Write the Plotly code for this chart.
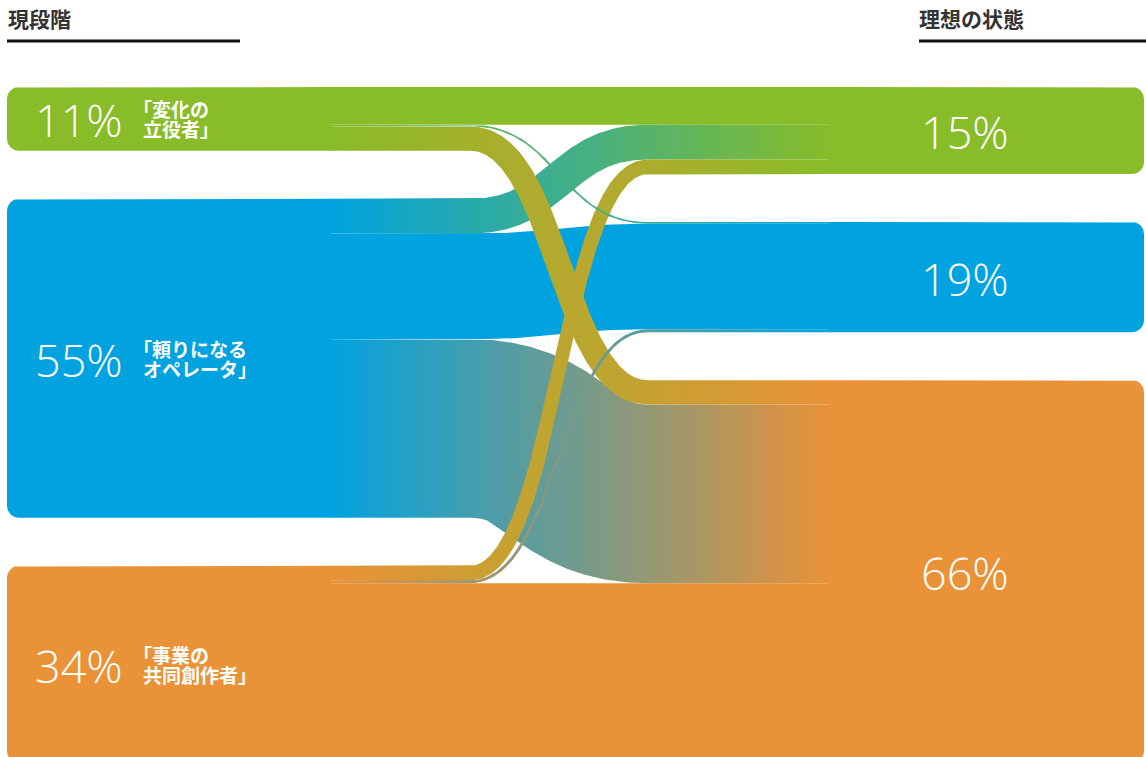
import numpy as np
import plotly.graph_objects as go

# ---------------------------------------------------------------- data
header_now = "現段階"
header_ideal = "理想の状態"
stage_names = [["「変化の", "立役者」"],
               ["「頼りになる", "オペレータ」"],
               ["「事業の", "共同創作者」"]]
stage_colors = ["#88BC28", "#00A3E0", "#E99237"]

now_share = [11, 55, 34]      # 現段階 (%)
ideal_share = [15, 19, 66]    # 理想の状態 (%)

# movement from each current stage to each ideal state (% of respondents),
# ordered as [変化の立役者, 頼りになるオペレータ, 事業の共同創作者]
from_change_agent = [6.5, 0.3, 4.2]
from_operator = [6.0, 18.2, 30.8]
from_co_creator = [2.5, 0.5, 31.0]
flows = [from_change_agent, from_operator, from_co_creator]

# ---------------------------------------------------------------- layout
W, H = 1146, 757
PX = 5.8            # pixels per percentage point
TOP = 87            # top of both columns (px)
GAP = 48 / PX       # gap between stacked nodes, in % units
LEFT_X = (7, 331)
RIGHT_X = (829, 1144)
LINK_X = (330, 830)
BEND_X = (470, 648)
RADIUS = 12

y_top = -TOP / PX
y_bot = (H - TOP) / PX


def stack(shares):
    tops, y = [], 0.0
    for s in shares:
        tops.append(y)
        y += s + GAP
    return tops


left_tops = stack(now_share)
right_tops = stack(ideal_share)


def rounded_node(x0, x1, y0, y1, side):
    """Rectangle in px with the outer corners rounded; returns axis coords."""
    r = RADIUS
    a = np.linspace(0, np.pi / 2, 16)
    if side == "left":
        xs = [x1, x0 + r] + list(x0 + r - r * np.sin(a)) + [x0, x0] + \
             list(x0 + r - r * np.cos(a)) + [x1, x1]
        ys = [y0, y0] + list(y0 + r - r * np.cos(a)) + [y0 + r, y1 - r] + \
             list(y1 - r + r * np.sin(a)) + [y1, y0]
    else:
        xs = [x0, x1 - r] + list(x1 - r + r * np.sin(a)) + [x1, x1] + \
             list(x1 - r + r * np.cos(a)) + [x0, x0]
        ys = [y0, y0] + list(y0 + r - r * np.cos(a)) + [y0 + r, y1 - r] + \
             list(y1 - r + r * np.sin(a)) + [y1, y0]
    return np.array(xs), np.array(ys) / PX


def link_band(yc0, yc1, w):
    """Stroke-like band (constant thickness w px) along a flat-bezier-flat path."""
    xa, xb = BEND_X
    xm = (xa + xb) / 2
    t = np.linspace(0, 1, 160)
    bx = (1 - t) ** 3 * xa + 3 * (1 - t) ** 2 * t * xm + 3 * (1 - t) * t ** 2 * xm + t ** 3 * xb
    by = (1 - t) ** 3 * yc0 + 3 * (1 - t) ** 2 * t * yc0 + 3 * (1 - t) * t ** 2 * yc1 + t ** 3 * yc1
    dbx = 3 * (1 - t) ** 2 * (xm - xa) + 3 * t ** 2 * (xb - xm)
    dby = 6 * (1 - t) * t * (yc1 - yc0)
    cx = np.concatenate([[LINK_X[0]], bx, [LINK_X[1]]])
    cy = np.concatenate([[yc0], by, [yc1]])
    tx = np.concatenate([[1.0], dbx, [1.0]])
    ty = np.concatenate([[0.0], dby, [0.0]])
    n = np.hypot(tx, ty)
    nx, ny = ty / n, -tx / n
    topx, topy = cx + w / 2 * nx, cy + w / 2 * ny
    botx, boty = cx - w / 2 * nx, cy - w / 2 * ny
    xs = np.concatenate([topx, botx[::-1], topx[:1]])
    ys = np.concatenate([topy, boty[::-1], topy[:1]])
    return xs, ys / PX


fig = go.Figure()

# ---- nodes
for i, s in enumerate(now_share):
    y0 = TOP + left_tops[i] * PX
    xs, ys = rounded_node(LEFT_X[0], LEFT_X[1], y0, y0 + s * PX, "left")
    fig.add_trace(go.Scatter(x=xs, y=ys - TOP / PX, fill="toself", mode="lines",
                             line=dict(width=0), fillcolor=stage_colors[i],
                             hoverinfo="skip", showlegend=False))
for j, s in enumerate(ideal_share):
    y0 = TOP + right_tops[j] * PX
    xs, ys = rounded_node(RIGHT_X[0], RIGHT_X[1], y0, y0 + s * PX, "right")
    fig.add_trace(go.Scatter(x=xs, y=ys - TOP / PX, fill="toself", mode="lines",
                             line=dict(width=0), fillcolor=stage_colors[j],
                             hoverinfo="skip", showlegend=False))

# ---- link positions inside each node
src_off = {}
for i in range(3):
    acc = left_tops[i]
    for j in range(3):
        src_off[(i, j)] = acc
        acc += flows[i][j]
tgt_off = {}
for j in range(3):
    acc = right_tops[j]
    for i in range(3):
        tgt_off[(i, j)] = acc
        acc += flows[i][j]

draw_order = [(1, 1), (1, 0), (1, 2), (0, 0), (2, 2), (0, 2), (2, 0), (0, 1), (2, 1)]
for i, j in draw_order:
    v = flows[i][j]
    yc0 = TOP + (src_off[(i, j)] + v / 2) * PX
    yc1 = TOP + (tgt_off[(i, j)] + v / 2) * PX
    xs, ys = link_band(yc0, yc1, v * PX)
    fig.add_trace(go.Scatter(
        x=xs, y=ys - TOP / PX, fill="toself", mode="lines", line=dict(width=0),
        fillgradient=dict(type="horizontal",
                          colorscale=[[0, stage_colors[i]], [1, stage_colors[j]]],
                          start=LINK_X[0], stop=LINK_X[1]),
        hoverinfo="skip", showlegend=False))

# ---- labels
pct_font = dict(family="Open Sans", size=45, color="white", weight=300)
jp_font = dict(family="Noto Sans CJK JP", size=19, color="white", weight=700)
LINE_SEP = 10 / PX   # half the distance between the two name lines
for i, s in enumerate(now_share):
    yc = left_tops[i] + s / 2
    fig.add_annotation(x=33, y=yc, text=f"{s}%", showarrow=False, xanchor="left",
                       yanchor="middle", font=pct_font, yshift=-1)
    first, second = stage_names[i]
    # opening bracket hangs half an em to the left of the second line
    fig.add_annotation(x=131, y=yc - LINE_SEP, text=first, showarrow=False,
                       xanchor="left", yanchor="middle", font=jp_font)
    fig.add_annotation(x=140.5, y=yc + LINE_SEP, text=second, showarrow=False,
                       xanchor="left", yanchor="middle", font=jp_font)
for j, s in enumerate(ideal_share):
    yc = right_tops[j] + s / 2
    fig.add_annotation(x=919, y=yc, text=f"{s}%", showarrow=False, xanchor="left",
                       yanchor="middle", font=pct_font, yshift=-1)

hdr_font = dict(family="Noto Sans CJK JP", size=21, color="#333333", weight=700)
fig.add_annotation(x=6, y=1 - 18 / H, xref="x", yref="paper", text=header_now,
                   showarrow=False, xanchor="left", yanchor="middle", font=hdr_font)
fig.add_annotation(x=917, y=1 - 18 / H, xref="x", yref="paper", text=header_ideal,
                   showarrow=False, xanchor="left", yanchor="middle", font=hdr_font)
for xa, xb in [(7, 240), (919, 1146)]:
    fig.add_shape(type="line", x0=xa, x1=xb, y0=1 - 41 / H, y1=1 - 41 / H,
                  xref="x", yref="paper", line=dict(color="#111111", width=3))

fig.update_layout(
    width=W, height=H, margin=dict(l=0, r=0, t=0, b=0),
    paper_bgcolor="white", plot_bgcolor="white",
    xaxis=dict(range=[0, W], visible=False, fixedrange=True),
    yaxis=dict(range=[y_bot, y_top], visible=False, fixedrange=True),
)

fig.write_html("out.html")
